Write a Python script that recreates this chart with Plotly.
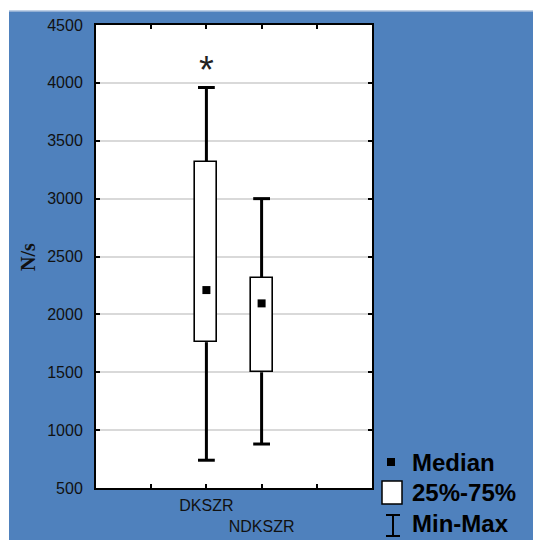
import plotly.graph_objects as go

# Group summary statistics (N/s)
categories = ["DKSZR", "NDKSZR"]
positions = [2, 3]
minimum = [740, 880]
q1 = [1760, 1500]
median = [2210, 2095]
q3 = [3320, 2315]
maximum = [3960, 3000]

y_ticks = [500, 1000, 1500, 2000, 2500, 3000, 3500, 4000, 4500]
x_ticks = [1, 2, 3, 4]
x_ticktext = ["", "DKSZR", "<br>NDKSZR", ""]

BLUE = "#4F81BD"
W, H = 533, 540
L, R, T, B = 96, 372, 25, 488


def px(x, y):
    """Convert page pixel coordinates to paper coordinates."""
    return (x - L) / (R - L), (B - y) / (B - T)


fig = go.Figure()

# interquartile boxes
fig.add_trace(go.Bar(
    x=positions, base=q1, y=[b - a for a, b in zip(q1, q3)], width=0.4,
    marker=dict(color="white", line=dict(color="black", width=1.6)),
    hoverinfo="skip",
))

# whiskers (below and above each box)
wx, wy = [], []
for p, lo, a, b, hi in zip(positions, minimum, q1, q3, maximum):
    wx += [p, p, None, p, p, None]
    wy += [lo, a, None, b, hi, None]
fig.add_trace(go.Scatter(x=wx, y=wy, mode="lines",
                         line=dict(color="black", width=3), hoverinfo="skip"))

# whisker caps
fig.add_trace(go.Scatter(
    x=positions + positions, y=minimum + maximum, mode="markers",
    marker=dict(symbol="line-ew", size=12, line=dict(color="black", width=3)),
    hoverinfo="skip",
))

# medians
fig.add_trace(go.Scatter(
    x=positions, y=median, mode="markers",
    marker=dict(symbol="square", size=8, color="black"),
    hoverinfo="skip",
))

annotations = []
shapes = []

# significance mark
annotations.append(dict(x=positions[0], y=maximum[0], xref="x", yref="y",
                        text="*", showarrow=False, yanchor="bottom", yshift=-5,
                        font=dict(family="Liberation Sans", size=38, color="#222")))

# y-axis title
ax, ay = px(28, 257)
annotations.append(dict(x=ax, y=ay, xref="paper", yref="paper", text="<b>N/s</b>",
                        textangle=-90, showarrow=False, xanchor="center", yanchor="middle",
                        font=dict(family="Liberation Serif", size=20, color="#111")))

# legend: median marker, box, whisker
x0, y0 = px(387, 466); x1, y1 = px(395, 458)
shapes.append(dict(type="rect", xref="paper", yref="paper", x0=x0, y0=y0, x1=x1, y1=y1,
                   fillcolor="black", line=dict(width=0)))
x0, y0 = px(382, 504); x1, y1 = px(402, 481)
shapes.append(dict(type="rect", xref="paper", yref="paper", x0=x0, y0=y0, x1=x1, y1=y1,
                   fillcolor="white", line=dict(color="black", width=1.5)))
for (xa, ya, xb, yb) in [(393, 515, 393, 536), (386, 515, 400, 515), (386, 536, 400, 536)]:
    x0, y0 = px(xa, ya); x1, y1 = px(xb, yb)
    shapes.append(dict(type="line", xref="paper", yref="paper", x0=x0, y0=y0, x1=x1, y1=y1,
                       line=dict(color="black", width=2)))
for label, yc in [("Median", 462), ("25%-75%", 492), ("Min-Max", 523)]:
    lx, ly = px(410, yc)
    annotations.append(dict(x=lx, y=ly, xref="paper", yref="paper", text=f"<b>{label}</b>",
                            showarrow=False, xanchor="left", yanchor="middle",
                            font=dict(family="Arial", size=24, color="black")))

# white page strips around the blue panel
for (xa, ya, xb, yb) in [(0, 0, W, 11), (0, 0, 9, H)]:
    x0, y0 = px(xa, yb); x1, y1 = px(xb, ya)
    shapes.append(dict(type="rect", xref="paper", yref="paper", x0=x0, y0=y0, x1=x1, y1=y1,
                       fillcolor="white", line=dict(width=0), layer="above"))
x0, y0 = px(9, 11); x1, y1 = px(W, 11)
shapes.append(dict(type="line", xref="paper", yref="paper", x0=x0, y0=y0, x1=x1, y1=y1,
                   line=dict(color="#a9bfdc", width=1.5), layer="above"))

fig.update_layout(
    width=W, height=H,
    margin=dict(l=L, r=W - R, t=T, b=H - B, autoexpand=False),
    paper_bgcolor=BLUE, plot_bgcolor="white",
    showlegend=False, bargap=0,
    font=dict(family="Arial", size=16, color="#111"),
    annotations=annotations, shapes=shapes,
)
fig.update_xaxes(range=[0, 5], tickvals=x_ticks, ticktext=x_ticktext, tickangle=0,
                 ticks="inside", ticklen=4, tickwidth=1.5, tickcolor="black",
                 showline=True, linecolor="black", linewidth=2, mirror="ticks",
                 showgrid=False, zeroline=False, fixedrange=True, automargin=False,
                 ticklabelstandoff=2)
fig.update_yaxes(range=[500, 4500], tickvals=y_ticks,
                 ticks="inside", ticklen=4, tickwidth=1.5, tickcolor="black",
                 showline=True, linecolor="black", linewidth=2, mirror="ticks",
                 showgrid=True, gridcolor="#d9d9d9", gridwidth=1.5,
                 zeroline=False, ticklabelstandoff=8, fixedrange=True, automargin=False)

fig.write_html("out.html")
